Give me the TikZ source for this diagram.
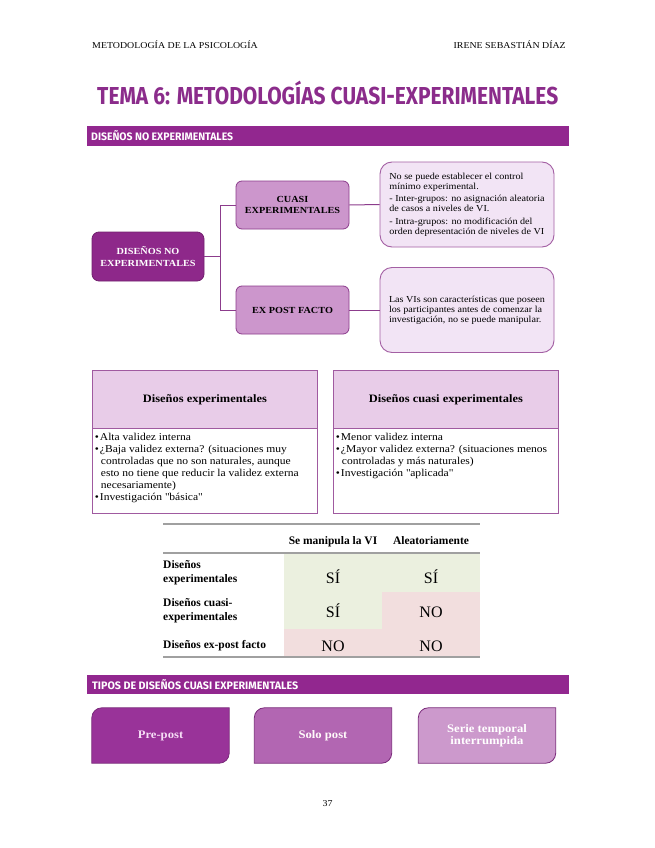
\documentclass[tikz,border=0pt]{standalone}
\usepackage{graphicx}
\usepackage{fontspec}
\setmainfont{Liberation Serif}[FakeStretch=1.1]
\newfontfamily\tabfont{Liberation Serif}
\newfontfamily\titlefont{Fira Sans}
\usetikzlibrary{calc}
\pgfdeclarelayer{background}
\pgfsetlayers{background,main}
\definecolor{titlecol}{HTML}{8B2C8B}
\definecolor{barcol}{HTML}{92278F}
\definecolor{dnecol}{HTML}{8E288A}
\definecolor{subcol}{HTML}{CC96CC}
\definecolor{edgecol}{HTML}{8C3C8C}
\definecolor{desccol}{HTML}{F2E4F5}
\definecolor{descedge}{HTML}{A35FA3}
\definecolor{cmphead}{HTML}{E8CCE8}
\definecolor{cmpedge}{HTML}{A05AA0}
\definecolor{okgreen}{HTML}{EBF0DF}
\definecolor{nopink}{HTML}{F2DEDE}
\definecolor{rulegray}{HTML}{A0A0A0}
\definecolor{typeA}{HTML}{993399}
\definecolor{typeB}{HTML}{B266B2}
\definecolor{typeC}{HTML}{CC99CC}
\definecolor{typeedge}{HTML}{7A2A7A}
\definecolor{typetextA}{HTML}{F6DDF6}
\newcommand\bul[1]{\par\noindent\hangindent=6pt\hangafter=1\textbullet\hspace{1pt}#1}
\newcommand\capbox[3]{\resizebox{#1}{#2}{\raisebox{0pt}[\fontcharht\font`D][0pt]{#3}}}
\newcommand\diagshape[2]{%
  \path[#2] (#1.south west) -- ($(#1.north west)+(0,10)$)
    .. controls ($(#1.north west)+(0,4.5)$) and ($(#1.north west)+(4.5,0)$) .. ($(#1.north west)+(10,0)$)
    -- (#1.north east) -- ($(#1.south east)+(0,-10)$)
    .. controls ($(#1.south east)+(0,-4.5)$) and ($(#1.south east)+(-4.5,0)$) .. ($(#1.south east)+(-10,0)$) -- cycle;}
\tikzset{
  hdr/.style={inner sep=0, font=\fontsize{9}{10}\selectfont},
  bar/.style={fill=barcol, inner sep=0, minimum width=482pt, minimum height=19.5pt, anchor=north west},
  bartext/.style={inner sep=0, anchor=base west, text=white},
  dnebox/.style={fill=dnecol, draw=dnecol!80!black, line width=0.8pt, rounded corners=7pt, minimum width=112pt, minimum height=49pt, align=center, text=white, font=\bfseries\fontsize{9.3}{11.5}\selectfont, inner sep=1pt},
  subbox/.style={fill=subcol, draw=edgecol, line width=0.8pt, rounded corners=6pt, minimum width=113pt, minimum height=48pt, align=center, font=\bfseries\fontsize{9.3}{11.5}\selectfont, inner sep=1pt},
  descbox/.style={fill=desccol, draw=descedge, line width=0.9pt, rounded corners=12pt, minimum width=174pt, minimum height=85pt, inner sep=2pt, align=left, font=\fontsize{9.2}{10}\selectfont},
  conn/.style={draw=edgecol, line width=1pt},
  cmph/.style={fill=cmphead, draw=cmpedge, line width=0.8pt, minimum width=225pt, minimum height=58pt, anchor=north west, font=\bfseries\fontsize{11.3}{13}\selectfont, inner sep=0},
  cmpb/.style={fill=white, draw=cmpedge, line width=0.8pt, minimum width=225pt, minimum height=85pt, anchor=north west, inner xsep=2pt, inner ysep=3pt},
  tabrule/.style={draw=rulegray, line width=1.3pt},
  tabh/.style={inner sep=0, anchor=base, font=\tabfont\bfseries\fontsize{11.5}{13}\selectfont},
  tabl/.style={inner sep=0, anchor=base west, font=\tabfont\bfseries\fontsize{11.5}{13}\selectfont},
  tabv/.style={inner sep=0, anchor=base, font=\tabfont\fontsize{16}{17}\selectfont},
  typebox/.style={inner sep=0, minimum width=137pt, minimum height=55pt, align=center, font=\bfseries\fontsize{11.5}{12.5}\selectfont},
  typeshape/.style={draw=typeedge, line width=0.8pt},
}
\begin{document}
\begin{tikzpicture}[x=1pt,y=-1pt]
\useasboundingbox (0,0) rectangle (655,848);

% header
\node[hdr, anchor=base west] (hl) at (92,49) {METODOLOGÍA DE LA PSICOLOGÍA};
\node[hdr, anchor=base east] (hr) at (566,49) {IRENE SEBASTIÁN DÍAZ};

% title
\node[inner sep=0, anchor=base west, text=titlecol] (title) at (97,105)
  {\titlefont\bfseries\fontsize{24}{24}\selectfont\capbox{461pt}{17pt}{TEMA 6: METODOLOGÍAS CUASI-EXPERIMENTALES}};

% section bar 1
\node[bar] (bar1) at (87,126) {};
\node[bartext] (bar1t) at (91,140)
  {\titlefont\bfseries\fontsize{11}{11}\selectfont\capbox{142pt}{7.5pt}{DISEÑOS NO EXPERIMENTALES}};

% tree
\node[dnebox] (dne) at (148,256.5) {DISEÑOS NO\\EXPERIMENTALES};
\node[subbox] (cuasi) at (292.5,205) {CUASI\\EXPERIMENTALES};
\node[subbox] (expost) at (292.5,310) {EX POST FACTO};
\node[descbox] (d1) at (467,204.5) {No se puede establecer el control\\mínimo experimental.\\[2.5pt]- Inter-grupos: no asignación aleatoria\\de casos a niveles de VI.\\[2.5pt]- Intra-grupos: no modificación del\\orden depresentación de niveles de VI};
\node[descbox] (d2) at (467,310) {Las VIs son características que poseen\\los participantes antes de comenzar la\\investigación, no se puede manipular.};
\coordinate (split) at (220,256.5);
\draw[conn] (dne.east) -- (split);
\draw[conn] (split) |- (cuasi.west);
\draw[conn] (split) |- (expost.west);
\draw[conn] (cuasi.east) -- (d1.west);
\draw[conn] (expost.east) -- (d2.west);

% comparison boxes
\node[cmph] (ch1) at (92,370) {Diseños experimentales};
\node[cmpb] (cb1) at (92,428) {\parbox[c][78pt][t]{220pt}{\fontsize{10.5}{12}\selectfont\raggedright
  \vspace*{1pt}
  \bul{Alta validez interna}
  \bul{¿Baja validez externa? (situaciones muy\newline controladas que no son naturales, aunque\newline esto no tiene que reducir la validez externa\newline necesariamente)}
  \bul{Investigación \textquotedbl básica\textquotedbl}\par}};
\node[cmph] (ch2) at (333,370) {Diseños cuasi experimentales};
\node[cmpb] (cb2) at (333,428) {\parbox[c][78pt][t]{220pt}{\fontsize{10.5}{12}\selectfont\raggedright
  \vspace*{1pt}
  \bul{Menor validez interna}
  \bul{¿Mayor validez externa? (situaciones menos\newline controladas y más naturales)}
  \bul{Investigación \textquotedbl aplicada\textquotedbl}\par}};

% table
\fill[okgreen] (284,553) rectangle (480,592);
\fill[okgreen] (284,592) rectangle (382,629);
\fill[nopink] (382,592) rectangle (480,629);
\fill[nopink] (284,629) rectangle (480,657);
\draw[tabrule] (163,524) -- (480,524);
\draw[tabrule] (163,553) -- (480,553);
\draw[tabrule] (163,657) -- (480,657);
\node[tabh] (th1) at (333,544) {Se manipula la VI};
\node[tabh] (th2) at (431,544) {Aleatoriamente};
\node[tabl] (r1a) at (163,568) {Diseños};
\node[tabl] (r1b) at (163,582.5) {experimentales};
\node[tabl] (r2a) at (163,606) {Diseños cuasi-};
\node[tabl] (r2b) at (163,620.5) {experimentales};
\node[tabl] (r3a) at (163,648) {Diseños ex-post facto};
\node[tabv] (v11) at (333,583) {SÍ};
\node[tabv] (v12) at (431,583) {SÍ};
\node[tabv] (v21) at (333,617.5) {SÍ};
\node[tabv] (v22) at (431,617.5) {NO};
\node[tabv] (v31) at (333,651.5) {NO};
\node[tabv] (v32) at (431,651.5) {NO};

% section bar 2
\node[bar] (bar2) at (87,674.5) {};
\node[bartext] (bar2t) at (92,689)
  {\titlefont\bfseries\fontsize{11}{11}\selectfont\capbox{206pt}{7.5pt}{TIPOS DE DISEÑOS CUASI EXPERIMENTALES}};

% types
\node[typebox, text=typetextA] (t1) at (160.5,735.5) {Pre-post};
\node[typebox, text=white!92!pink] (t2) at (323,735.5) {Solo post};
\node[typebox, text=white] (t3) at (487,735.5) {Serie temporal\\interrumpida};
\begin{pgfonlayer}{background}
\fill[white] (0,0) rectangle (655,848);
\diagshape{t1}{typeshape, fill=typeA}
\diagshape{t2}{typeshape, fill=typeB}
\diagshape{t3}{typeshape, fill=typeC}
\end{pgfonlayer}

% page number
\node[hdr, anchor=base] (pg) at (327.5,806) {37};
\end{tikzpicture}
\end{document}
